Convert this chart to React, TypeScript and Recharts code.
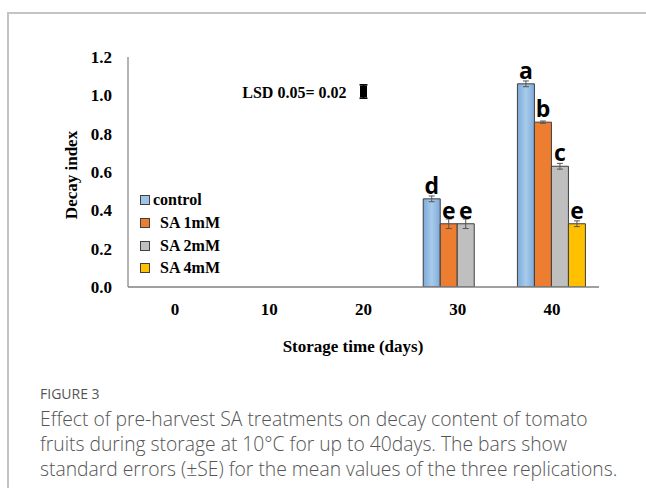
import React from 'react';
import { ComposedChart, Bar, Line, XAxis, YAxis, ErrorBar, LabelList } from 'recharts';

const days = ['0', '10', '20', '30', '40'];
const control = [0, 0, 0, 0.46, 1.06];
const sa1 = [0, 0, 0, 0.33, 0.86];
const sa2 = [0, 0, 0, 0.33, 0.63];
const sa4 = [0, 0, 0, null, 0.33];
const controlErr = [null, null, null, 0.015, 0.015];
const sa1Err = [null, null, null, 0.025, 0.006];
const sa2Err = [null, null, null, 0.025, 0.015];
const sa4Err = [null, null, null, null, 0.015];
const controlLetters = ['', '', '', 'd', 'a'];
const sa1Letters = ['', '', '', 'e', 'b'];
const sa2Letters = ['', '', '', 'e', 'c'];
const sa4Letters = ['', '', '', '', 'e'];
const lsdPoint = [null, null, 1.02, null, null];
const lsdErr = [null, null, 0.035, null, null];
const lsdText = 'LSD 0.05= 0.02';
const yTicks = [0, 0.2, 0.4, 0.6, 0.8, 1.0, 1.2];
const seriesNames = ['control', 'SA 1mM', 'SA 2mM', 'SA 4mM'];
const seriesColors = ['#9dc3e6', '#ed7d31', '#bfbfbf', '#ffc000'];
const xTitle = 'Storage time (days)';
const yTitle = 'Decay index';
const figureLabel = 'FIGURE 3';
const captionLines = [
  'Effect of pre-harvest SA treatments on decay content of tomato',
  'fruits during storage at 10°C for up to 40days. The bars show',
  'standard errors (±SE) for the mean values of the three replications.',
];

const data = days.map((d, i) => ({
  day: d,
  control: control[i],
  sa1: sa1[i],
  sa2: sa2[i],
  sa4: sa4[i],
  controlErr: controlErr[i],
  sa1Err: sa1Err[i],
  sa2Err: sa2Err[i],
  sa4Err: sa4Err[i],
  controlL: controlLetters[i],
  sa1L: sa1Letters[i],
  sa2L: sa2Letters[i],
  sa4L: sa4Letters[i],
  lsd: lsdPoint[i],
  lsdErr: lsdErr[i],
}));

const serif = '"Liberation Serif", "Times New Roman", serif';

const makeLetter = (vals: any[], errs: any[]) => (props: any) => {
  const { x, y, width, height, value, index } = props;
  if (!value) return null;
  const v = vals[index];
  const e = errs[index] || 0;
  const errPx = v ? (Math.abs(height) * e) / v : 0;
  return (
    <text
      x={x + width / 2}
      y={y - errPx - 5}
      textAnchor="middle"
      fontFamily='"Open Sans", sans-serif'
      fontWeight={700}
      fontSize={23}
      fill="#000"
    >
      {value}
    </text>
  );
};

const LsdDot = (props: any) => {
  const { cx, cy, payload } = props;
  if (payload == null || payload.lsd == null || cx == null || cy == null) return <g />;
  return (
    <g>
      <text
        x={cx - 17}
        y={cy + 6}
        textAnchor="end"
        fontFamily={serif}
        fontWeight={700}
        fontSize={16}
        fill="#000"
      >
        {lsdText}
      </text>
      <rect x={cx - 3.5} y={cy - 6} width={7} height={12} fill="#000" />
    </g>
  );
};

const LegendBox = () => (
  <div style={{ position: 'absolute', left: 140, top: 189, fontFamily: serif, fontWeight: 700, fontSize: 16, color: '#000' }}>
    {seriesNames.map((n, i) => (
      <div key={n} style={{ display: 'flex', alignItems: 'center', height: 22.7, whiteSpace: 'pre' }}>
        <span
          style={{
            display: 'inline-block',
            width: 8,
            height: 8,
            background: seriesColors[i],
            border: '1px solid #404040',
            marginRight: i === 0 ? 3 : 10,
          }}
        />
        <span>{n}</span>
      </div>
    ))}
  </div>
);

export default function App() {
  return (
    <div style={{ position: 'absolute', left: 0, top: 0, width: 646, height: 488, background: '#fff', overflow: 'hidden' }}>
      <div style={{ position: 'absolute', left: 7, top: 12, width: 700, height: 600, borderLeft: '2px solid #c4c4c4', borderTop: '2px solid #c4c4c4' }} />
      <div style={{ position: 'absolute', left: 0, top: 0 }}>
        <ComposedChart
          width={646}
          height={340}
          data={data}
          margin={{ top: 57, right: 47, bottom: 23, left: 68 }}
          barGap={0}
          barCategoryGap="13.4%"
        >
          <defs>
            <linearGradient id="blueGrad" x1="0" y1="0" x2="1" y2="0">
              <stop offset="0%" stopColor="#7eaad8" />
              <stop offset="50%" stopColor="#a8cbeb" />
              <stop offset="100%" stopColor="#7eaad8" />
            </linearGradient>
          </defs>
          <XAxis
            dataKey="day"
            height={30}
            axisLine={{ stroke: '#808080', strokeWidth: 1.5 }}
            tickLine={false}
            tickSize={0}
            tickMargin={16}
            tick={{ fontFamily: serif, fontWeight: 700, fontSize: 17, fill: '#000' }}
          />
          <YAxis
            width={60}
            domain={[0, 1.2]}
            ticks={yTicks}
            interval={0}
            allowDataOverflow
            tickFormatter={(v: number) => v.toFixed(1)}
            axisLine={{ stroke: '#808080', strokeWidth: 1.2 }}
            tickLine={false}
            tickSize={0}
            tickMargin={16}
            tick={{ fontFamily: serif, fontWeight: 700, fontSize: 17, fill: '#000' }}
          />
          <Bar dataKey="control" name="control" fill="url(#blueGrad)" stroke="#3f3f3f" strokeWidth={1} isAnimationActive={false}>
            <ErrorBar dataKey="controlErr" width={3} stroke="#555" strokeWidth={1} />
            <LabelList dataKey="controlL" content={makeLetter(control, controlErr)} />
          </Bar>
          <Bar dataKey="sa1" name="SA 1mM" fill={seriesColors[1]} stroke="#3f3f3f" strokeWidth={1} isAnimationActive={false}>
            <ErrorBar dataKey="sa1Err" width={3} stroke="#555" strokeWidth={1} />
            <LabelList dataKey="sa1L" content={makeLetter(sa1, sa1Err)} />
          </Bar>
          <Bar dataKey="sa2" name="SA 2mM" fill={seriesColors[2]} stroke="#3f3f3f" strokeWidth={1} isAnimationActive={false}>
            <ErrorBar dataKey="sa2Err" width={3} stroke="#555" strokeWidth={1} />
            <LabelList dataKey="sa2L" content={makeLetter(sa2, sa2Err)} />
          </Bar>
          <Bar dataKey="sa4" name="SA 4mM" fill={seriesColors[3]} stroke="#3f3f3f" strokeWidth={1} isAnimationActive={false}>
            <ErrorBar dataKey="sa4Err" width={3} stroke="#555" strokeWidth={1} />
            <LabelList dataKey="sa4L" content={makeLetter(sa4, sa4Err)} />
          </Bar>
          <Line
            dataKey="lsd"
            stroke="none"
            legendType="none"
            dot={<LsdDot />}
            activeDot={false}
            isAnimationActive={false}
          >
            <ErrorBar dataKey="lsdErr" width={4} stroke="#000" strokeWidth={1.5} />
          </Line>
        </ComposedChart>
      </div>
      <LegendBox />
      <div
        style={{
          position: 'absolute',
          left: 72,
          top: 175,
          transform: 'translate(-50%, -50%) rotate(-90deg)',
          fontFamily: serif,
          fontWeight: 700,
          fontSize: 17,
          whiteSpace: 'nowrap',
          color: '#000',
        }}
      >
        {yTitle}
      </div>
      <div
        style={{
          position: 'absolute',
          left: 353,
          top: 347,
          transform: 'translate(-50%, -50%)',
          fontFamily: serif,
          fontWeight: 700,
          fontSize: 17,
          whiteSpace: 'nowrap',
          color: '#000',
        }}
      >
        {xTitle}
      </div>
      <div
        style={{
          position: 'absolute',
          left: 40,
          top: 384,
          fontFamily: '"Open Sans", sans-serif',
          fontSize: 14,
          fontWeight: 500,
          color: '#555',
          whiteSpace: 'nowrap',
        }}
      >
        {figureLabel}
      </div>
      <div
        style={{
          position: 'absolute',
          left: 40,
          top: 406,
          fontFamily: '"Open Sans", sans-serif',
          fontSize: 19.3,
          fontWeight: 300,
          lineHeight: '25px',
          color: '#555',
          whiteSpace: 'nowrap',
        }}
      >
        {captionLines.map((l) => (
          <div key={l}>{l}</div>
        ))}
      </div>
    </div>
  );
}
